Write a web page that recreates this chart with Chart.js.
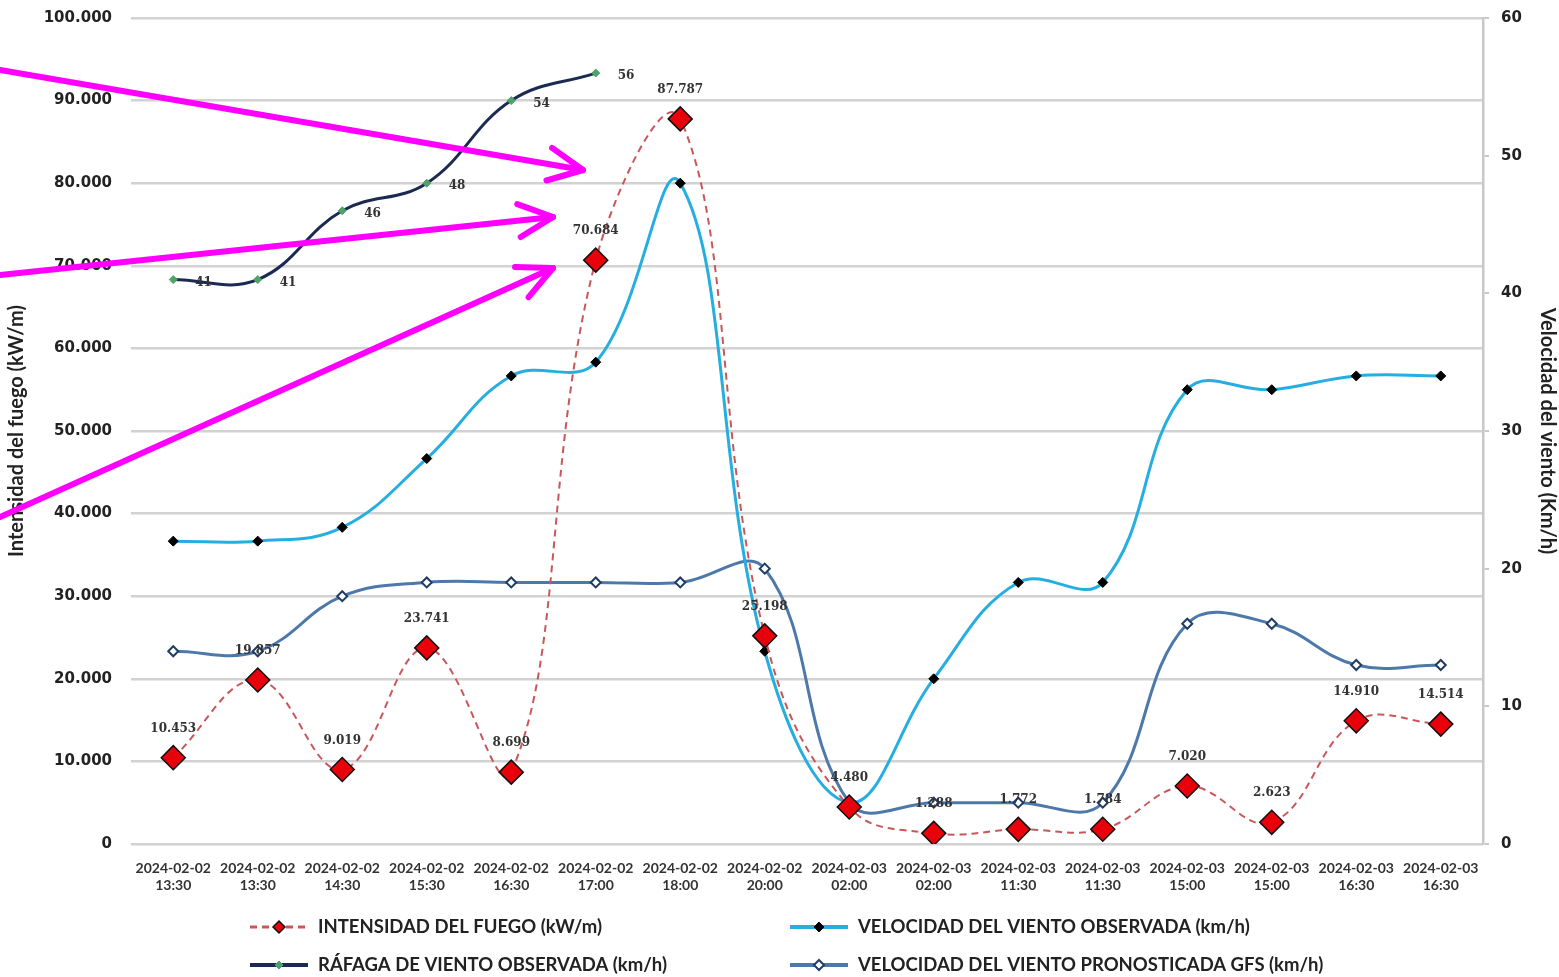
<!DOCTYPE html>
<html>
<head>
<meta charset="utf-8">
<script src="https://cdn.jsdelivr.net/npm/chart.js@4.4.1/dist/chart.umd.min.js"></script>
<style>
  html, body { margin: 0; padding: 0; background: #fff; }
  #wrap { width: 1559px; height: 977px; position: relative; }
</style>
</head>
<body>
<div id="wrap"><canvas id="chart"></canvas></div>
<script>
// datos
const fechas = ['2024-02-02', '2024-02-02', '2024-02-02', '2024-02-02', '2024-02-02', '2024-02-02', '2024-02-02', '2024-02-02',
                '2024-02-03', '2024-02-03', '2024-02-03', '2024-02-03', '2024-02-03', '2024-02-03', '2024-02-03', '2024-02-03'];
const horas = ['13:30', '13:30', '14:30', '15:30', '16:30', '17:00', '18:00', '20:00',
               '02:00', '02:00', '11:30', '11:30', '15:00', '15:00', '16:30', '16:30'];
const intensidad = [10453, 19857, 9019, 23741, 8699, 70684, 87787, 25198, 4480, 1288, 1772, 1784, 7020, 2623, 14910, 14514];
const velObservada = [22, 22, 23, 28, 34, 35, 48, 14, 3, 12, 19, 19, 33, 33, 34, 34];
const rafaga = [41, 41, 46, 48, 54, 56, null, null, null, null, null, null, null, null, null, null];
const velGfs = [14, 14, 18, 19, 19, 19, 19, 20, 3, 3, 3, 3, 16, 16, 13, 13];

const labels = fechas.map((f, i) => [f, horas[i]]);

function fmtMiles(v) {
  return String(v).replace(/\B(?=(\d{3})+(?!\d))/g, '.');
}

// etiquetas de valores sobre los puntos
const etiquetasPlugin = {
  id: 'etiquetas',
  afterDatasetsDraw(chart) {
    const ctx = chart.ctx;
    ctx.save();
    ctx.font = 'bold 12px "DejaVu Serif"';
    ctx.fillStyle = '#333';
    ctx.textAlign = 'center';
    ctx.textBaseline = 'middle';
    chart.getDatasetMeta(0).data.forEach((pt, i) => {
      ctx.fillText(fmtMiles(intensidad[i]), pt.x, pt.y - 29);
    });
    ctx.textAlign = 'left';
    chart.getDatasetMeta(2).data.forEach((pt, i) => {
      if (rafaga[i] == null) return;
      ctx.fillText(String(rafaga[i]), pt.x + 22, pt.y + 3);
    });
    ctx.restore();
  }
};

// leyenda en dos columnas como en el original
const leyendaPlugin = {
  id: 'leyenda',
  afterDraw(chart) {
    const ctx = chart.ctx;
    const cols = [250, 790];
    const filas = [927, 965];
    chart.data.datasets.forEach((ds, i) => {
      const x = cols[i % 2], y = filas[Math.floor(i / 2)];
      ctx.save();
      ctx.strokeStyle = ds.borderColor;
      ctx.lineWidth = ds.borderWidth + 1;
      ctx.setLineDash(ds.borderDash || []);
      ctx.beginPath();
      ctx.moveTo(x, y);
      ctx.lineTo(x + 58, y);
      ctx.stroke();
      ctx.setLineDash([]);
      ctx.fillStyle = ds.pointBackgroundColor;
      ctx.strokeStyle = ds.pointBorderColor;
      ctx.lineWidth = ds.pointBorderWidth;
      Chart.helpers.drawPoint(ctx, {
        pointStyle: ds.pointStyle,
        radius: Math.min(ds.pointRadius, 6),
        borderWidth: ds.pointBorderWidth,
        rotation: 0
      }, x + 29, y);
      ctx.font = 'bold 18.5px Lato';
      ctx.fillStyle = '#222';
      ctx.textAlign = 'left';
      ctx.textBaseline = 'middle';
      ctx.fillText(ds.label, x + 68, y);
      ctx.restore();
    });
  }
};

// flechas magenta superpuestas en la imagen original
const flechas = [
  { desde: [0, 70], hasta: [583, 170] },
  { desde: [0, 275], hasta: [553, 217] },
  { desde: [0, 517], hasta: [553, 268] }
];
const flechasPlugin = {
  id: 'flechas',
  afterDraw(chart) {
    const ctx = chart.ctx;
    ctx.save();
    ctx.strokeStyle = '#ff00ff';
    ctx.lineWidth = 6;
    ctx.lineCap = 'round';
    ctx.lineJoin = 'round';
    flechas.forEach(f => {
      const [x0, y0] = f.desde, [x1, y1] = f.hasta;
      const ang = Math.atan2(y0 - y1, x0 - x1);
      ctx.beginPath();
      ctx.moveTo(x0, y0);
      ctx.lineTo(x1, y1);
      ctx.stroke();
      ctx.beginPath();
      ctx.moveTo(x1 + 38 * Math.cos(ang + 0.45), y1 + 38 * Math.sin(ang + 0.45));
      ctx.lineTo(x1, y1);
      ctx.lineTo(x1 + 38 * Math.cos(ang - 0.45), y1 + 38 * Math.sin(ang - 0.45));
      ctx.stroke();
    });
    ctx.restore();
  }
};

new Chart(document.getElementById('chart'), {
  type: 'line',
  data: {
    labels: labels,
    datasets: [
      {
        label: 'INTENSIDAD DEL FUEGO (kW/m)',
        data: intensidad,
        yAxisID: 'y',
        borderColor: '#c9575a',
        borderWidth: 2,
        borderDash: [7, 5],
        tension: 0.4,
        pointStyle: 'rectRot',
        pointRadius: 12,
        pointBackgroundColor: '#e8000b',
        pointBorderColor: '#111',
        pointBorderWidth: 1.5
      },
      {
        label: 'VELOCIDAD DEL VIENTO OBSERVADA (km/h)',
        data: velObservada,
        yAxisID: 'y2',
        borderColor: '#26aee0',
        borderWidth: 3,
        tension: 0.4,
        pointStyle: 'rectRot',
        pointRadius: 5,
        pointBackgroundColor: '#000',
        pointBorderColor: '#000',
        pointBorderWidth: 1
      },
      {
        label: 'RÁFAGA DE VIENTO OBSERVADA (km/h)',
        data: rafaga,
        yAxisID: 'y2',
        borderColor: '#1b2a52',
        borderWidth: 3,
        tension: 0.4,
        spanGaps: false,
        pointStyle: 'rectRot',
        pointRadius: 4,
        pointBackgroundColor: '#4fa36a',
        pointBorderColor: '#4fa36a',
        pointBorderWidth: 1
      },
      {
        label: 'VELOCIDAD DEL VIENTO PRONOSTICADA GFS (km/h)',
        data: velGfs,
        yAxisID: 'y2',
        borderColor: '#4d78aa',
        borderWidth: 3,
        tension: 0.4,
        pointStyle: 'rectRot',
        pointRadius: 5,
        pointBackgroundColor: '#fff',
        pointBorderColor: '#1f3c66',
        pointBorderWidth: 2
      }
    ]
  },
  options: {
    responsive: true,
    maintainAspectRatio: false,
    animation: false,
    layout: { padding: { top: 18, bottom: 83, left: 0, right: 0 } },
    plugins: {
      legend: { display: false },
      tooltip: { enabled: false }
    },
    scales: {
      x: {
        offset: true,
        grid: { display: false },
        border: { display: false },
        ticks: {
          autoSkip: false,
          maxRotation: 0,
          padding: 8,
          color: '#333',
          font: { family: 'Lato', size: 14, weight: 'bold' }
        },
        afterFit(s) { s.height = 50; }
      },
      y: {
        position: 'left',
        min: 0,
        max: 100000,
        ticks: {
          stepSize: 10000,
          padding: 19,
          color: '#222',
          font: { family: 'DejaVu Sans', size: 15, weight: 'bold' },
          callback: v => fmtMiles(v)
        },
        grid: { color: '#d2d2d2', lineWidth: 2.5, drawTicks: false },
        border: { display: false },
        title: {
          display: true,
          text: 'Intensidad del fuego (kW/m)',
          color: '#222',
          font: { family: 'Lato', size: 20, weight: 'bold' },
          padding: { top: 5, bottom: 0 }
        },
        afterFit(s) { s.width = 131; s.paddingTop = 0; s.paddingBottom = 0; }
      },
      y2: {
        position: 'right',
        min: 0,
        max: 60,
        ticks: {
          stepSize: 10,
          padding: 12,
          color: '#222',
          font: { family: 'DejaVu Sans', size: 15, weight: 'bold' }
        },
        grid: { drawOnChartArea: false, drawTicks: true, tickLength: 6, color: '#c8c8c8', lineWidth: 2 },
        border: { display: true, color: '#c8c8c8', width: 2.5 },
        title: {
          display: true,
          text: 'Velocidad del viento (Km/h)',
          color: '#222',
          font: { family: 'Lato', size: 20, weight: 'bold' },
          padding: { top: 0, bottom: 2 }
        },
        afterFit(s) { s.width = 76; s.paddingTop = 0; s.paddingBottom = 0; }
      }
    }
  },
  plugins: [etiquetasPlugin, leyendaPlugin, flechasPlugin]
});
</script>
</body>
</html>
